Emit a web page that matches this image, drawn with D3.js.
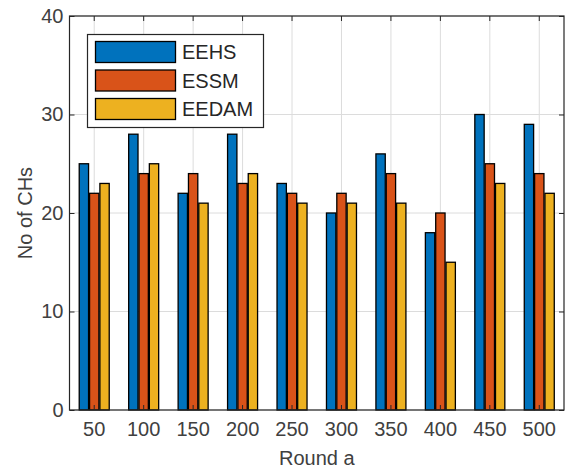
<!DOCTYPE html>
<html><head><meta charset="utf-8">
<script src="https://cdn.jsdelivr.net/npm/d3@7"></script>
<style>body{margin:0;background:#fff}svg text{font-family:"Liberation Sans",Arial,sans-serif}</style>
</head><body><svg id="c" width="567" height="471"></svg>
<script>
const categories = ["50","100","150","200","250","300","350","400","450","500"];
const seriesNames = ["EEHS","ESSM","EEDAM"];
const EEHS  = [25,28,22,28,23,20,26,18,30,29];
const ESSM  = [22,24,24,23,22,22,24,20,25,24];
const EEDAM = [23,25,21,24,21,21,21,15,23,22];
const yTicks = [0,10,20,30,40];
const colors = ["#0072BD","#D95319","#EDB120"];
const series = [EEHS, ESSM, EEDAM];

const svg = d3.select("#c");
const L = 69.5, R = 564, T = 16, B = 410;
const x = d3.scaleBand().domain(categories).range([L, R]).paddingInner(0).paddingOuter(0);
const y = d3.scaleLinear().domain([0, 40]).range([B, T]);
const sub = d3.scaleBand().domain(seriesNames).range([0, 31]);
const axisColor = "#262626";
const textColor = "#404040";
const fs = 20;

// grid
const g = svg.append("g");
g.selectAll(".vg").data(categories).join("line")
  .attr("x1", d => x(d) + x.bandwidth()/2).attr("x2", d => x(d) + x.bandwidth()/2)
  .attr("y1", T).attr("y2", B).attr("stroke", "#dcdcdc").attr("stroke-width", 1);
g.selectAll(".hg").data(yTicks).join("line")
  .attr("x1", L).attr("x2", R).attr("y1", d => y(d)).attr("y2", d => y(d))
  .attr("stroke", "#dcdcdc").attr("stroke-width", 1);

// bars
seriesNames.forEach((s, i) => {
  svg.append("g").selectAll("rect").data(series[i]).join("rect")
    .attr("x", (d, j) => x(categories[j]) + x.bandwidth()/2 - 15.5 + sub(s) + 0.5)
    .attr("width", sub.bandwidth() - 1)
    .attr("y", d => y(d))
    .attr("height", d => y(0) - y(d))
    .attr("fill", colors[i]).attr("stroke", "#000").attr("stroke-width", 1.3);
});

// axes
const xb = d3.axisBottom(x).tickSize(-5).tickPadding(10);
const xt = d3.axisTop(x).tickSize(-5).tickFormat("");
const yl = d3.axisLeft(y).tickValues(yTicks).tickSize(-5).tickPadding(8);
const yr = d3.axisRight(y).tickValues(yTicks).tickSize(-5).tickFormat("");
function style(sel){
  sel.select(".domain").remove();
  sel.selectAll("line").attr("stroke", axisColor);
  sel.selectAll("text").attr("fill", textColor).style("font-size", fs + "px");
}
svg.append("g").attr("transform", `translate(0,${B})`).call(xb).call(style)
  .selectAll("text").attr("dy", "0.8em");
svg.append("g").attr("transform", `translate(0,${T})`).call(xt).call(style);
svg.append("g").attr("transform", `translate(${L},0)`).call(yl).call(style)
  .selectAll("text").attr("dx", "0.1em");
svg.append("g").attr("transform", `translate(${R},0)`).call(yr).call(style);

// box
svg.append("rect").attr("x", L).attr("y", T).attr("width", R - L).attr("height", B - T)
  .attr("fill", "none").attr("stroke", axisColor).attr("stroke-width", 1.2);

// labels
svg.append("text").attr("x", (L + R)/2).attr("y", 465).attr("text-anchor", "middle")
  .attr("fill", textColor).style("font-size", fs + "px").text("Round a");
svg.append("text").attr("transform", `translate(32,${(T + B)/2}) rotate(-90)`).attr("text-anchor", "middle")
  .attr("fill", textColor).style("font-size", fs + "px").text("No of CHs");

// legend
const lg = svg.append("g");
lg.append("rect").attr("x", 87.5).attr("y", 34.5).attr("width", 176).attr("height", 93)
  .attr("fill", "#fff").attr("stroke", axisColor).attr("stroke-width", 1.2);
seriesNames.forEach((s, i) => {
  const cy = 52 + i * 28.5;
  lg.append("rect").attr("x", 95.5).attr("y", cy - 10.5).attr("width", 80).attr("height", 21)
    .attr("fill", colors[i]).attr("stroke", "#000").attr("stroke-width", 1.3);
  lg.append("text").attr("x", 182).attr("y", cy).attr("dy", "0.36em")
    .attr("fill", "#262626").style("font-size", "20px").text(s);
});
</script></body></html>
